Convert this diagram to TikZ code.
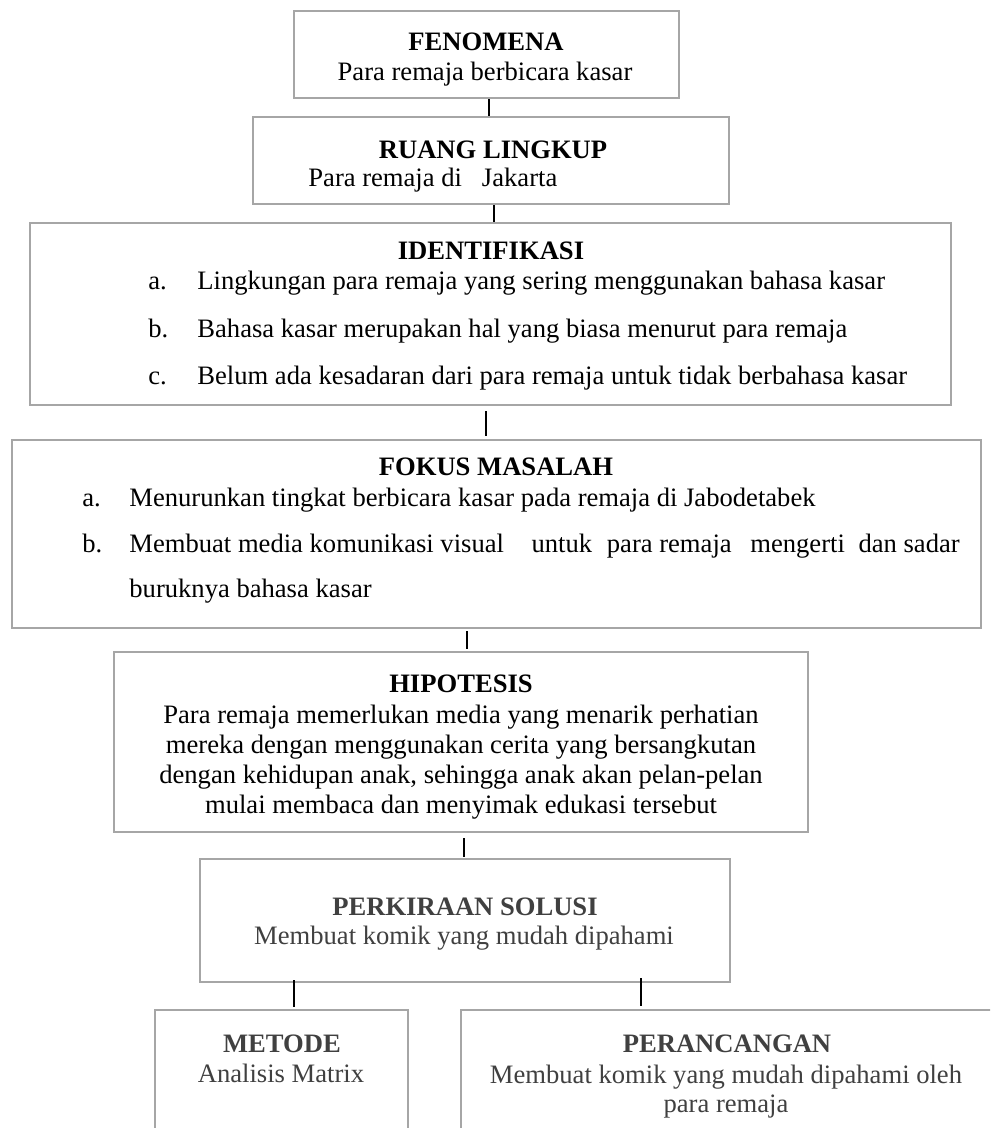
\documentclass[tikz,border=0pt]{standalone}
\usepackage{fontspec}
\setmainfont{Liberation Serif}
\definecolor{boxgray}{HTML}{A6A6A6}
\definecolor{txtgray}{HTML}{404040}
\begin{document}
\begin{tikzpicture}[x=0.5pt,y=-0.5pt,
  box/.style={draw=boxgray,line width=1.1pt,rectangle,inner sep=0pt},
  conn/.style={draw=black,line width=1.2pt},
  txt/.style={inner sep=0pt,anchor=base,font=\fontsize{13.3}{15}\selectfont},
  ttl/.style={inner sep=0pt,anchor=base,font=\fontsize{13.3}{15}\selectfont\bfseries},
  lft/.style={txt,anchor=base west},
  gr/.style={text=txtgray}]
\useasboundingbox (0,0) rectangle (990,1128);
\clip (0,0) rectangle (990,1128);
\fill[white] (0,0) rectangle (990,1128);

% boxes
\node[box,minimum width=192.5pt,minimum height=43.5pt] (fen) at (486.5,54.5) {};
\node[box,minimum width=238pt,minimum height=43.5pt] (rl) at (491,160.5) {};
\node[box,minimum width=460.5pt,minimum height=91pt] (ident) at (490.5,314) {};
\node[box,minimum width=484.5pt,minimum height=94pt] (fokus) at (496.5,534) {};
\node[box,minimum width=347pt,minimum height=90pt] (hipo) at (461,742) {};
\node[box,minimum width=265pt,minimum height=61.5pt] (perk) at (465,920.5) {};
\node[box,minimum width=126.5pt,minimum height=80pt] (metode) at (281.5,1090) {};
\node[box,minimum width=267pt,minimum height=80pt] (peran) at (728,1090) {};

% connectors
\draw[conn] (fen.south -| 489,0) -- (rl.north -| 489,0);
\draw[conn] (rl.south -| 494,0) -- (ident.north -| 494,0);
\draw[conn] ([yshift=-2.5pt]ident.south -| 486,0) -- ([yshift=1.5pt]fokus.north -| 486,0);
\draw[conn] ([yshift=-1pt]fokus.south -| 467,0) -- ([yshift=1pt]hipo.north -| 467,0);
\draw[conn] ([yshift=-2.5pt]hipo.south -| 464,0) -- ([yshift=0.5pt]perk.north -| 464,0);
\draw[conn] ([yshift=1.5pt]perk.south -| 294,0) -- ([yshift=1pt]metode.north -| 294,0);
\draw[conn] ([yshift=2.5pt]perk.south -| 641,0) -- ([yshift=1.5pt]peran.north -| 641,0);

% FENOMENA
\node[ttl] (fenT) at (486,51) {FENOMENA};
\node[txt] (fenS) at (485,81) {Para remaja berbicara kasar};

% RUANG LINGKUP
\node[ttl] (rlT) at (493,159) {RUANG LINGKUP};
\node[lft] (rlS) at (308,187) {Para remaja di\ \ \ Jakarta};

% IDENTIFIKASI
\node[ttl] (idT) at (491,260) {IDENTIFIKASI};
\node[lft] (idLa) at (148,290) {a.};
\node[lft] (idA) at (197,290) {Lingkungan para remaja yang sering menggunakan bahasa kasar};
\node[lft] (idLb) at (148,337) {b.};
\node[lft] (idB) at (197,337) {Bahasa kasar merupakan hal yang biasa menurut para remaja};
\node[lft] (idLc) at (148,384) {c.};
\node[lft] (idC) at (197,384) {Belum ada kesadaran dari para remaja untuk tidak berbahasa kasar};

% FOKUS MASALAH
\node[ttl] (fkT) at (496,475) {FOKUS MASALAH};
\node[lft] (fkLa) at (82,506) {a.};
\node[lft] (fkA) at (129,506) {Menurunkan tingkat berbicara kasar pada remaja di Jabodetabek};
\node[lft] (fkLb) at (82,552) {b.};
\node[lft] (fkB) at (129,552) {Membuat media komunikasi visual\hspace{10.5pt} untuk\hspace{4pt} para remaja\hspace{6pt} mengerti\hspace{3.5pt} dan sadar};
\node[lft] (fkB2) at (129,597) {buruknya bahasa kasar};

% HIPOTESIS
\node[ttl] (hpT) at (461,692) {HIPOTESIS};
\node[txt] (hp1) at (461,723) {Para remaja memerlukan media yang menarik perhatian};
\node[txt] (hp2) at (461,753) {mereka dengan menggunakan cerita yang bersangkutan};
\node[txt] (hp3) at (461,783) {dengan kehidupan anak, sehingga anak akan pelan-pelan};
\node[txt] (hp4) at (461,813) {mulai membaca dan menyimak edukasi tersebut};

% PERKIRAAN SOLUSI
\node[ttl,gr] (pkT) at (465,915) {PERKIRAAN SOLUSI};
\node[txt,gr] (pkS) at (464,944) {Membuat komik yang mudah dipahami};

% METODE
\node[ttl,gr] (mtT) at (282,1052) {METODE};
\node[txt,gr] (mtS) at (281,1082) {Analisis Matrix};

% PERANCANGAN
\node[ttl,gr] (prT) at (727,1052) {PERANCANGAN};
\node[txt,gr] (prS) at (726,1083) {Membuat komik yang mudah dipahami oleh};
\node[txt,gr] (prS2) at (726,1112) {para remaja};
\end{tikzpicture}
\end{document}
